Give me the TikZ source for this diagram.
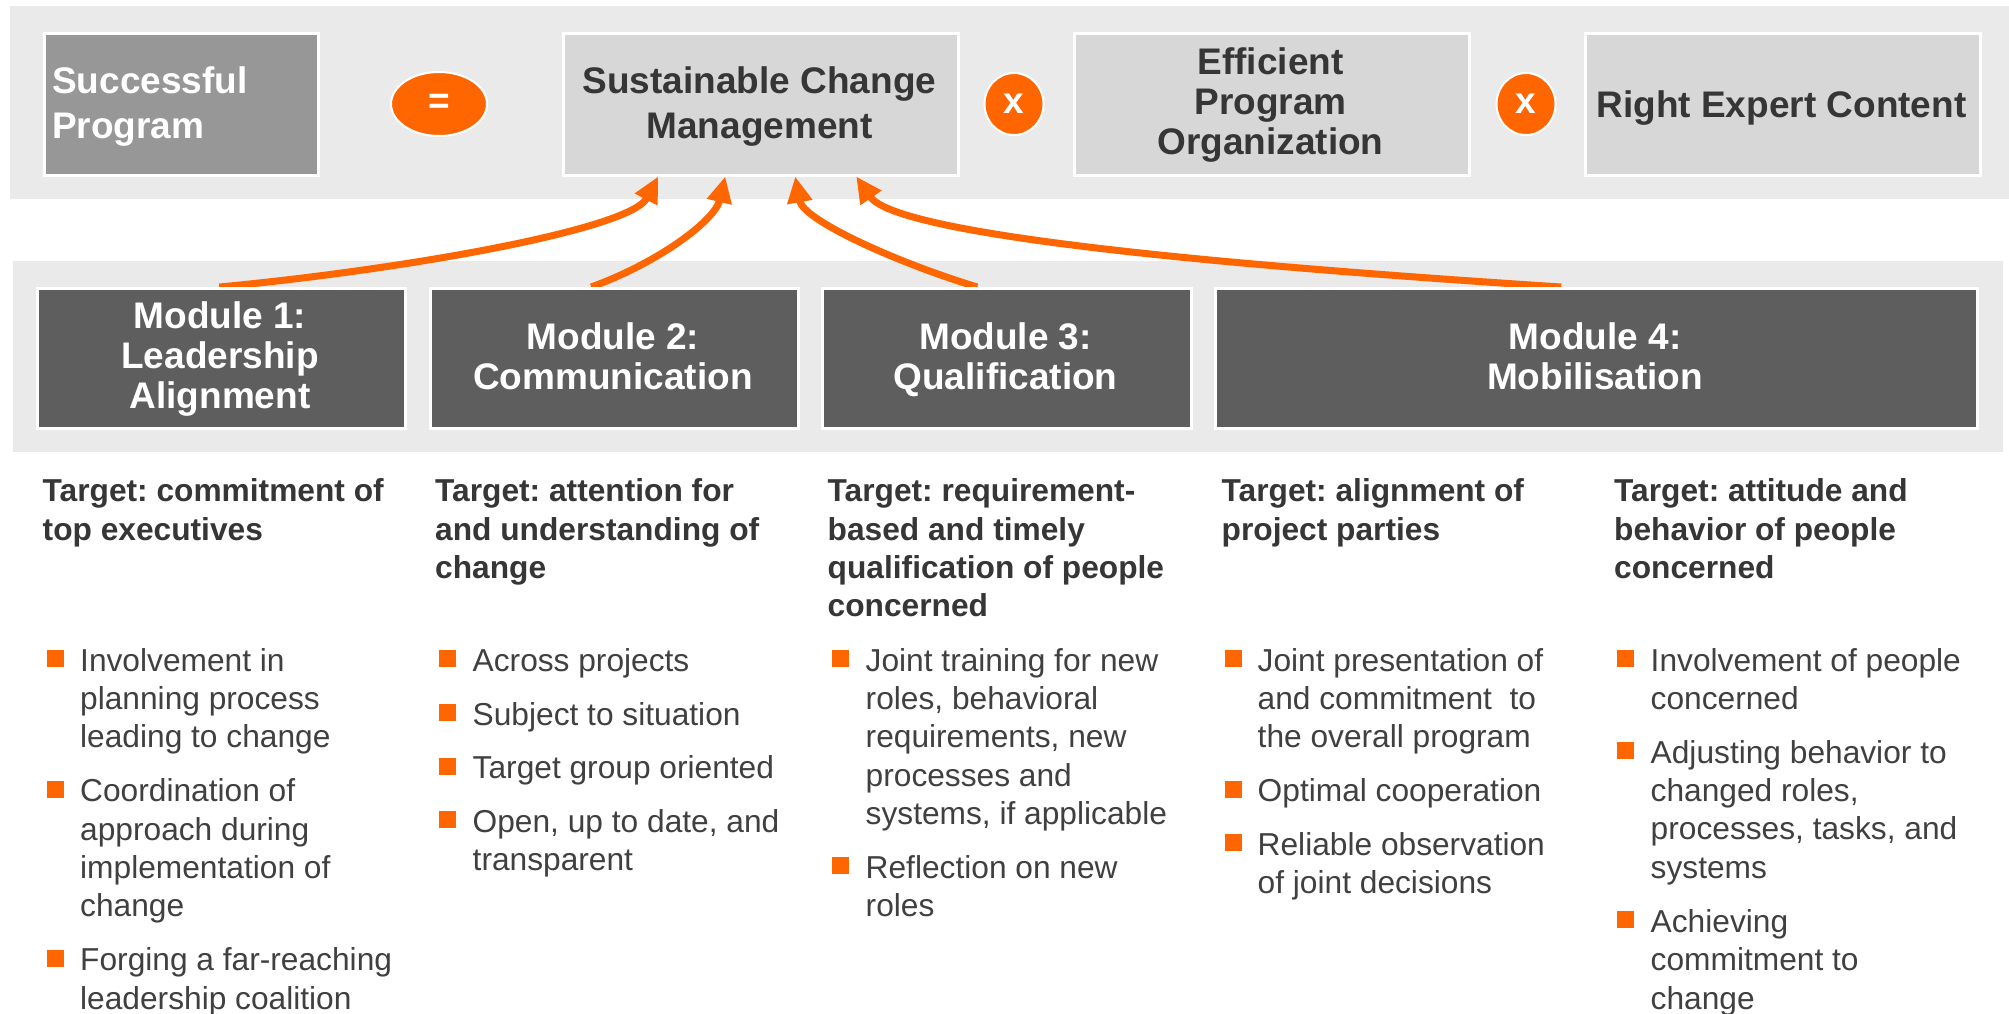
\documentclass[tikz,border=0pt]{standalone}
\usepackage{fontspec}
\setmainfont{Liberation Sans}
\usetikzlibrary{arrows.meta,shapes.geometric}
\definecolor{bandgray}{HTML}{EAEAEA}
\definecolor{spgray}{HTML}{979797}
\definecolor{lightbox}{HTML}{D7D7D7}
\definecolor{modgray}{HTML}{5E5E5E}
\definecolor{accent}{HTML}{FF6600}
\definecolor{darktext}{HTML}{363636}
\definecolor{bodytext}{HTML}{404040}
\newcommand\myL[1]{\begin{tabular}[t]{@{}l@{}}#1\end{tabular}}
\newcommand\myC[1]{\begin{tabular}[t]{@{}c@{}}#1\end{tabular}}
\pgfdeclarelayer{back}
\pgfdeclarelayer{mid}
\pgfsetlayers{back,mid,main}
\frenchspacing
\begin{document}
\begin{tikzpicture}[x=1pt,y=-1pt,
  box/.style={rectangle, draw=white, line width=2.5pt, inner sep=0pt, anchor=north west, minimum height=142pt},
  modbox/.style={rectangle, draw=white, line width=2.5pt, inner sep=0pt, anchor=north west, minimum height=140pt, fill=modgray},
  bigfont/.style={font=\fontsize{37}{45}\selectfont\bfseries},
  modfont/.style={font=\fontsize{37}{40}\selectfont\bfseries, text=white, inner sep=0pt},
  headfont/.style={font=\fontsize{31.7}{38.4}\selectfont\bfseries, text=darktext, inner sep=0pt, anchor=base west},
  bodyfont/.style={font=\fontsize{31.7}{38.4}\selectfont, text=bodytext, inner sep=0pt, anchor=base west},
  opnode/.style={ellipse, fill=accent, draw=white, line width=2pt, inner sep=0pt, text=white, font=\fontsize{37}{40}\selectfont\bfseries},
  arr/.style={draw=accent, line width=7pt, -{Triangle[length=26pt,width=24pt]}},
  bulsq/.style={fill=accent}]
\useasboundingbox (0,0) rectangle (2009,1013);
\begin{pgfonlayer}{back}
\fill[white] (0,0) rectangle (2009,1013);
\fill[bandgray] (10,6) rectangle (2009,199);
\fill[bandgray] (13,261) rectangle (2003,452);
\end{pgfonlayer}

% top row
\node[box, fill=spgray, minimum width=274pt] (sp) at (43,32) {};
\node[box, fill=lightbox, minimum width=395pt] (scm) at (562,32) {};
\node[box, fill=lightbox, minimum width=395pt] (epo) at (1073,32) {};
\node[box, fill=lightbox, minimum width=395pt] (rec) at (1584,32) {};
\node[bigfont, text=white, inner sep=0pt, anchor=base west] (spt) at (52,93) {\myL{Successful\\Program}};
\node[bigfont, text=darktext, inner sep=0pt, anchor=base] (scmt) at (759.5,93) {\myC{Sustainable Change\\Management}};
\node[font=\fontsize{37}{40}\selectfont\bfseries, text=darktext, inner sep=0pt, anchor=base] (epot) at (1270.5,74) {\myC{Efficient\\Program\\Organization}};
\node[bigfont, text=darktext, inner sep=0pt, anchor=base] (rect) at (1781.5,117) {Right Expert Content};
\node[opnode, minimum width=96pt, minimum height=64pt] (eq) at (439,104) {=};
\node[opnode, minimum width=59pt, minimum height=62pt] (x1) at (1014,104) {x};
\node[opnode, minimum width=59pt, minimum height=62pt] (x2) at (1526,104) {x};

% modules
\node[modbox, minimum width=368pt] (m1) at (36,287) {};
\node[modbox, minimum width=368pt] (m2) at (429,287) {};
\node[modbox, minimum width=369pt] (m3) at (821,287) {};
\node[modbox, minimum width=762pt] (m4) at (1214,287) {};
\node[modfont, anchor=base] (m1t) at (220,328) {\myC{Module 1:\\Leadership\\Alignment}};
\node[modfont, anchor=base] (m2t) at (613,349) {\myC{Module 2:\\Communication}};
\node[modfont, anchor=base] (m3t) at (1005.5,349) {\myC{Module 3:\\Qualification}};
\node[modfont, anchor=base] (m4t) at (1595,349) {\myC{Module 4:\\Mobilisation}};

% arrows
\begin{pgfonlayer}{mid}
\draw[arr] ([xshift=-2pt]m1.north) .. controls (400,270) and (630,230) .. ([xshift=-102.5pt]scm.south);
\draw[arr] ([xshift=-23pt]m2.north) .. controls (660,262) and (715,220) .. ([xshift=-35.5pt]scm.south);
\draw[arr] ([xshift=-29.5pt]m3.north) .. controls (895,262) and (803,220) .. ([xshift=34.5pt]scm.south);
\draw[arr] ([xshift=-35pt]m4.north) .. controls (1300,270) and (900,240) .. ([xshift=95.5pt]scm.south);
\end{pgfonlayer}

% headers
\node[headfont] (h1) at (42.5,501.7) {\myL{Target: commitment of\\top executives}};
\node[headfont] (h2) at (435,501.7) {\myL{Target: attention for\\and understanding of\\change}};
\node[headfont] (h3) at (827.5,501.7) {\myL{Target: requirement-\\based and timely\\qualification of people\\concerned}};
\node[headfont] (h4) at (1221.5,501.7) {\myL{Target: alignment of\\project parties}};
\node[headfont] (h5) at (1614,501.7) {\myL{Target: attitude and\\behavior of people\\concerned}};

% bullets
\node[bodyfont] (b11) at (80,671) {\myL{Involvement in\\planning process\\leading to change}};
\node[bodyfont] (b12) at (80,801.6) {\myL{Coordination of\\approach during\\implementation of\\change}};
\node[bodyfont] (b13) at (80,970.7) {\myL{Forging a far-reaching\\leadership coalition}};
\node[bodyfont] (b21) at (472.5,671) {Across projects};
\node[bodyfont] (b22) at (472.5,725) {Subject to situation};
\node[bodyfont] (b23) at (472.5,778.5) {Target group oriented};
\node[bodyfont] (b24) at (472.5,832) {\myL{Open, up to date, and\\transparent}};
\node[bodyfont] (b31) at (865.5,671) {\myL{Joint training for new\\roles, behavioral\\requirements, new\\processes and\\systems, if applicable}};
\node[bodyfont] (b32) at (865.5,878.4) {\myL{Reflection on new\\roles}};
\node[bodyfont] (b41) at (1257.5,671) {\myL{Joint presentation of\\and commitment~ to\\the overall program}};
\node[bodyfont] (b42) at (1257.5,801.6) {Optimal cooperation};
\node[bodyfont] (b43) at (1257.5,855.4) {\myL{Reliable observation\\of joint decisions}};
\node[bodyfont] (b51) at (1650.5,671) {\myL{Involvement of people\\concerned}};
\node[bodyfont] (b52) at (1650.5,763) {\myL{Adjusting behavior to\\changed roles,\\processes, tasks, and\\systems}};
\node[bodyfont] (b53) at (1650.5,932.3) {\myL{Achieving\\commitment to\\change}};

\foreach \sx/\sb in {47/671, 47/801.6, 47/970.7,
                     439/671, 439/725, 439/778.5, 439/832,
                     832/671, 832/878.4,
                     1225/671, 1225/801.6, 1225/855.4,
                     1617/671, 1617/763, 1617/932.3}
  \fill[bulsq] (\sx,\sb-21) rectangle ++(17,17);
\end{tikzpicture}
\end{document}
